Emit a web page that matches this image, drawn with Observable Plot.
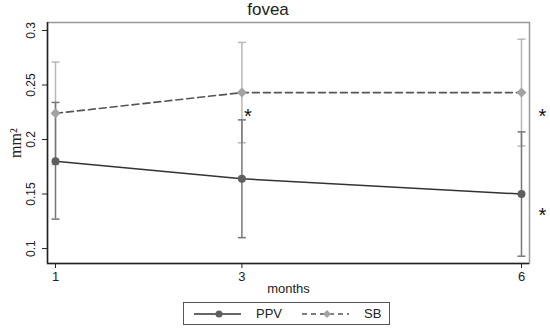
<!DOCTYPE html>
<html><head><meta charset="utf-8">
<script src="https://cdn.jsdelivr.net/npm/d3@7"></script>
<script src="https://cdn.jsdelivr.net/npm/@observablehq/plot@0.6"></script>
<style>
body{margin:0;background:#fff;font-family:"Liberation Sans",Arial,sans-serif;}
#wrap{width:550px;height:331px;position:relative;overflow:hidden;}
#title{width:536px;height:20px;line-height:20px;font-size:17px;color:#222;text-align:center;}
#legend{position:absolute;left:183px;top:302px;width:205px;height:21px;border:1px solid #555;display:flex;align-items:center;font-size:13px;color:#222;box-sizing:content-box;}
#legend svg{display:block;}
</style></head>
<body>
<div id="wrap">
<div id="title">fovea</div>
<div id="chart"></div>
<div id="legend"></div>
</div>
<script>
const months = [1, 3, 6];
const ppvMean = [0.180, 0.164, 0.150];
const ppvLow  = [0.127, 0.110, 0.093];
const ppvHigh = [0.234, 0.218, 0.207];
const sbMean  = [0.224, 0.243, 0.243];
const sbLow   = [0.177, 0.197, 0.194];
const sbHigh  = [0.271, 0.289, 0.292];
const xTicks = [1, 3, 6];
const yTicks = [0.1, 0.15, 0.2, 0.25, 0.3];
const seriesNames = ["PPV", "SB"];
const starMonthsMid = [3];
const starValuesMid = [0.221];
const starMonthsEnd = [6, 6];
const starValuesEnd = [0.221, 0.130];

const xDomain = [0.914, 6.086];
const yDomain = [0.0863, 0.3073];

const rows = (mean, low, high) => months.map((m, i) => ({month: m, mean: mean[i], low: low[i], high: high[i]}));
const ppv = rows(ppvMean, ppvLow, ppvHigh);
const sb = rows(sbMean, sbLow, sbHigh);

const cap = {draw(ctx, size) { const r = Math.sqrt(size / Math.PI); ctx.moveTo(-r, 0); ctx.lineTo(r, 0); }};

const ppvBar = "#767676", sbBar = "#b8b8b8";

const chart = Plot.plot({
  width: 550, height: 277,
  marginTop: 2, marginLeft: 47, marginRight: 21, marginBottom: 34,
  style: {fontFamily: '"Liberation Sans", Arial, sans-serif', color: "#222", background: "#fff"},
  x: {domain: xDomain},
  y: {domain: yDomain},
  marks: [
    Plot.frame({stroke: "#9a9a9a", strokeWidth: 1.5}),
    Plot.ruleX([xDomain[0]], {stroke: "#222", strokeWidth: 1.5}),
    Plot.ruleY([yDomain[0]], {stroke: "#222", strokeWidth: 1.5}),
    Plot.axisY({ticks: yTicks, tickFormat: d => String(d), tickRotate: -90, tickSize: 5, tickPadding: 8, fontSize: 12, label: null}),
    Plot.axisX({ticks: xTicks, tickFormat: d => String(d), tickSize: 5, tickPadding: 3, fontSize: 13, label: null}),
    Plot.text(["months"], {frameAnchor: "bottom", dy: 29, fontSize: 13}),
    Plot.text(["mm²"], {frameAnchor: "left", dx: -32, dy: 15, rotate: -90, fontSize: 16, fontFamily: '"Liberation Serif", "Times New Roman", serif'}),
    // SB error bars
    Plot.ruleX(sb, {x: "month", y1: "low", y2: "high", stroke: sbBar, strokeWidth: 1.5}),
    Plot.dot(sb, {x: "month", y: "low", symbol: cap, r: 4, stroke: sbBar, strokeWidth: 1.5}),
    Plot.dot(sb, {x: "month", y: "high", symbol: cap, r: 4, stroke: sbBar, strokeWidth: 1.5}),
    // PPV error bars
    Plot.ruleX(ppv, {x: "month", y1: "low", y2: "high", stroke: ppvBar, strokeWidth: 1.5}),
    Plot.dot(ppv, {x: "month", y: "low", symbol: cap, r: 4, stroke: ppvBar, strokeWidth: 1.5}),
    Plot.dot(ppv, {x: "month", y: "high", symbol: cap, r: 4, stroke: ppvBar, strokeWidth: 1.5}),
    // lines
    Plot.line(ppv, {x: "month", y: "mean", stroke: "#333", strokeWidth: 1.5}),
    Plot.line(sb, {x: "month", y: "mean", stroke: "#555", strokeWidth: 1.6, strokeDasharray: "7,4"}),
    Plot.dot(ppv, {x: "month", y: "mean", symbol: "circle", r: 4, fill: "#5e5e5e"}),
    Plot.dot(sb, {x: "month", y: "mean", symbol: "diamond2", r: 4.5, fill: "#a2a2a2"}),
    // significance markers
    Plot.text(starMonthsMid.map((m, i) => ({m, v: starValuesMid[i]})), {x: "m", y: "v", text: () => "*", dx: 6, fontSize: 20, fill: "#111"}),
    Plot.text(starMonthsEnd.map((m, i) => ({m, v: starValuesEnd[i]})), {x: "m", y: "v", text: () => "*", dx: 21, fontSize: 20, fill: "#111"})
  ]
});
document.getElementById("chart").appendChild(chart);

// legend
const leg = document.getElementById("legend");
const items = [
  {name: seriesNames[0], line: "#333", dash: null, fill: "#5e5e5e", shape: "circle"},
  {name: seriesNames[1], line: "#555", dash: "5,4", fill: "#a2a2a2", shape: "diamond"}
];
items.forEach((it, i) => {
  const s = d3.create("svg").attr("width", 48).attr("height", 12).style("margin-left", i === 0 ? "10px" : "20px");
  s.append("line").attr("x1", 0).attr("x2", 47).attr("y1", 6).attr("y2", 6).attr("stroke", it.line).attr("stroke-width", 1.5).attr("stroke-dasharray", it.dash);
  if (it.shape === "circle") s.append("circle").attr("cx", 25).attr("cy", 6).attr("r", 3.5).attr("fill", it.fill);
  else s.append("path").attr("d", "M25,2L29,6L25,10L21,6Z").attr("fill", it.fill);
  leg.appendChild(s.node());
  const t = document.createElement("span");
  t.textContent = it.name;
  t.style.marginLeft = "14px";
  leg.appendChild(t);
});
</script>
</body></html>
